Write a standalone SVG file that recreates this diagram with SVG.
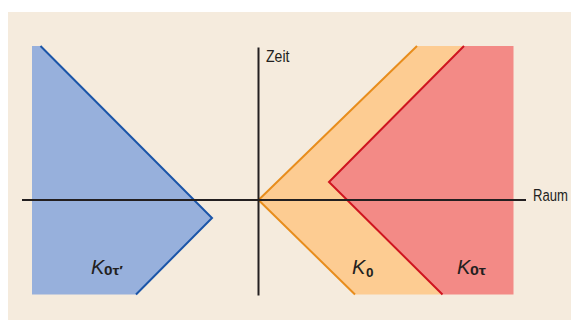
<svg xmlns="http://www.w3.org/2000/svg" width="571" height="320" viewBox="0 0 571 320">
<style>
.lbl{font-family:"Liberation Sans",Arial,sans-serif;font-size:17px;fill:#231f20}
.k{font-family:"Liberation Sans","Open Sans",sans-serif;font-style:italic;font-size:20px;fill:#231f20}
.sub{font-family:"Liberation Sans",sans-serif;font-weight:bold;font-size:13px;fill:#231f20;font-style:normal}
.axis{stroke:#231f20;stroke-width:2;fill:none}
</style>
<rect x="0" y="0" width="571" height="320" fill="#ffffff"/>
<rect x="8" y="12" width="563" height="308" fill="#f5ebdd"/>
<g id="K0tp">
<polygon points="32,46 40.5,46 212,218 136,294.5 32,294.5" fill="#97b0dc"/>
<polyline points="40.5,46 212,218 136,294.5" fill="none" stroke="#1b55a8" stroke-width="2"/>
<text x="91" y="274" class="k">K</text>
<text x="104" y="275" class="sub" textLength="19" lengthAdjust="spacingAndGlyphs">0τ′</text>
</g>
<g id="K0">
<polygon points="258.5,200 417,46 464,46 329,182 442.5,294.5 355,294.5" fill="#fdcc92"/>
<polyline points="417,46 258.5,200 355,294.5" fill="none" stroke="#e88d1c" stroke-width="2"/>
<text x="352" y="273.5" class="k">K</text>
<text x="366" y="276.5" class="sub" textLength="7.5" lengthAdjust="spacingAndGlyphs">0</text>
</g>
<g id="K0t">
<polygon points="464,46 513.5,46 513.5,294.5 442.5,294.5 329,182" fill="#f38a86"/>
<polyline points="464,46 329,182 442.5,294.5" fill="none" stroke="#cf1520" stroke-width="2"/>
<text x="457" y="273.5" class="k">K</text>
<text x="470" y="274.5" class="sub" textLength="16" lengthAdjust="spacingAndGlyphs">0τ</text>
</g>
<g id="connectors">
<line class="axis" x1="258.5" y1="47.5" x2="258.5" y2="295.5"/>
<line class="axis" x1="22" y1="200" x2="526" y2="200"/>
</g>
<g id="labels">
<text x="266" y="61.5" class="lbl" textLength="23.5" lengthAdjust="spacingAndGlyphs">Zeit</text>
<text transform="translate(533,201) scale(0.77,1)" class="lbl">Raum</text>
</g>
</svg>
